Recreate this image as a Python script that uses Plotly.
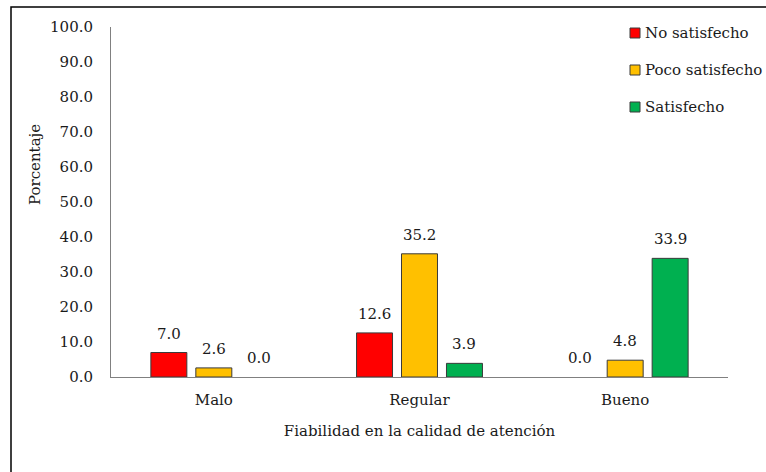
import plotly.graph_objects as go

# Survey results by perceived reliability of care quality
categories = ["Malo", "Regular", "Bueno"]
series_names = ["No satisfecho", "Poco satisfecho", "Satisfecho"]
no_satisfecho = [7.0, 12.6, 0.0]
poco_satisfecho = [2.6, 35.2, 4.8]
satisfecho = [0.0, 3.9, 33.9]
series_values = [no_satisfecho, poco_satisfecho, satisfecho]
series_colors = ["#FF0000", "#FFC000", "#00B050"]
y_ticks = [0, 10, 20, 30, 40, 50, 60, 70, 80, 90, 100]

FONT = "DejaVu Serif"
TEXT_COLOR = "#1a1a1a"
FONT_SIZE = 15

# Plot area geometry (pixels)
W, H = 766, 472
L, R, T, B = 111, 38, 27, 95
plot_w = W - L - R
plot_h = H - T - B

fig = go.Figure()
for name, vals, color in zip(series_names, series_values, series_colors):
    fig.add_trace(go.Bar(
        name=name, x=categories, y=vals,
        marker=dict(color=color,
                    line=dict(color="#3a3a3a",
                              width=[1 if v > 0 else 0 for v in vals])),
        showlegend=False,
    ))

# Value labels above each bar (offset horizontally to the bar's slot)
slot_px = plot_w / len(categories) * (1 - 0.344) / len(series_names)
annotations = []
for i, vals in enumerate(series_values):
    for cat, v in zip(categories, vals):
        annotations.append(dict(
            x=cat, y=v, xref="x", yref="y", text=f"{v:.1f}",
            showarrow=False, xanchor="center", yanchor="middle",
            xshift=(i - 1) * slot_px, yshift=19,
            font=dict(family=FONT, size=FONT_SIZE, color=TEXT_COLOR),
        ))

def px_to_paper_x(px):
    return (px - L) / plot_w

def px_to_paper_y(py):
    return (H - B - py) / plot_h

# Vertical axis title, placed in the upper half of the left margin
annotations.append(dict(
    x=px_to_paper_x(35), y=px_to_paper_y(165), xref="paper", yref="paper",
    text="Porcentaje", textangle=-90, showarrow=False,
    xanchor="center", yanchor="middle",
    font=dict(family=FONT, size=FONT_SIZE, color=TEXT_COLOR),
))

# Legend drawn as swatches + labels in the upper right
shapes = []
legend_rows_y = [33, 70, 107]
for name, color, ry in zip(series_names, series_colors, legend_rows_y):
    shapes.append(dict(
        type="rect", xref="paper", yref="paper",
        x0=px_to_paper_x(630), x1=px_to_paper_x(640),
        y0=px_to_paper_y(ry + 5), y1=px_to_paper_y(ry - 5),
        fillcolor=color, line=dict(color="#3a3a3a", width=1),
    ))
    annotations.append(dict(
        x=px_to_paper_x(643), y=px_to_paper_y(ry), xref="paper", yref="paper",
        text=name, showarrow=False, xanchor="left", yanchor="middle",
        font=dict(family=FONT, size=FONT_SIZE, color=TEXT_COLOR),
    ))

# Outer frame around the chart
shapes.append(dict(
    type="rect", xref="paper", yref="paper",
    x0=px_to_paper_x(11), x1=px_to_paper_x(790),
    y0=px_to_paper_y(500), y1=px_to_paper_y(7),
    line=dict(color="#000000", width=1.5), fillcolor="rgba(0,0,0,0)",
    layer="above",
))

fig.update_layout(
    width=W, height=H,
    margin=dict(l=L, r=R, t=T, b=B),
    paper_bgcolor="white", plot_bgcolor="white",
    barmode="group", bargap=0.344, bargroupgap=0.2,
    font=dict(family=FONT, size=FONT_SIZE, color=TEXT_COLOR),
    annotations=annotations, shapes=shapes,
    xaxis=dict(
        showline=True, linecolor="#808080", linewidth=1,
        showgrid=False, ticks="", ticklabelstandoff=9,
        title=dict(text="Fiabilidad en la calidad de atención", standoff=17,
                   font=dict(family=FONT, size=FONT_SIZE, color=TEXT_COLOR)),
    ),
    yaxis=dict(
        range=[0, 100], tickvals=y_ticks,
        ticktext=[f"{v:.1f}" for v in y_ticks],
        showline=True, linecolor="#808080", linewidth=1,
        showgrid=False, zeroline=False, ticks="", ticklabelstandoff=14,
    ),
)

fig.write_html("out.html")
